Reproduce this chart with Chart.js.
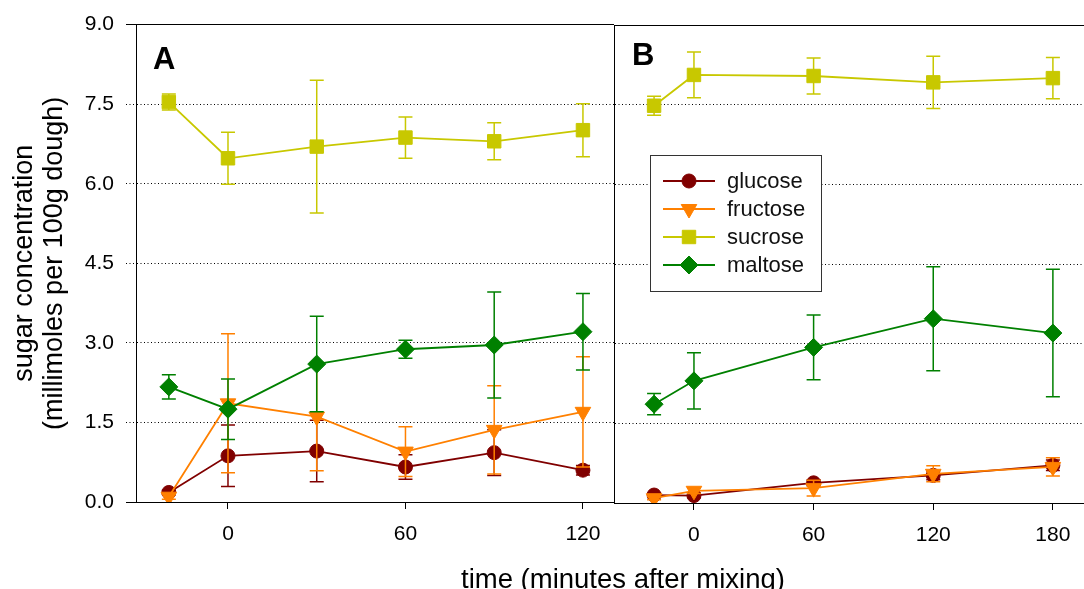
<!DOCTYPE html>
<html>
<head>
  <meta charset="UTF-8">
  <title>Sugar concentration in dough</title>
  <script src="https://cdn.jsdelivr.net/npm/chart.js"></script>
  <style>
    body {
      margin: 0;
      background: #fff;
      width: 1084px;
      height: 589px;
      overflow: hidden;
      position: relative;
      font-family: 'Liberation Sans', Arial, sans-serif;
    }
    #panelA { position: absolute; left: 0; top: 0; }
    #panelB { position: absolute; left: 614px; top: 1px; }
    #xTitle {
      position: absolute;
      left: 623px;
      top: 565px;
      transform: translateX(-50%);
      font-size: 27.5px;
      line-height: 1;
      white-space: nowrap;
      color: #000;
    }
  </style>
</head>
<body>
  <canvas id="panelA" width="615" height="589"></canvas>
  <canvas id="panelB" width="470" height="589"></canvas>
  <div id="xTitle">time (minutes after mixing)</div>
  <script>
    // panel A: times in minutes after mixing (-20 = before mixing)
    const timesA = [-20, 0, 30, 60, 90, 120];
    const glucoseA = [0.18, 0.87, 0.96, 0.66, 0.93, 0.60];
    const glucoseErrA = [0.04, 0.58, 0.58, 0.23, 0.43, 0.09];
    const fructoseA = [0.10, 1.86, 1.61, 0.95, 1.36, 1.70];
    const fructoseErrA = [0.05, 1.31, 1.02, 0.47, 0.83, 1.04];
    const sucroseA = [7.54, 6.48, 6.70, 6.87, 6.80, 7.01];
    const sucroseErrA = [0.15, 0.49, 1.25, 0.39, 0.35, 0.50];
    const maltoseA = [2.17, 1.75, 2.60, 2.88, 2.96, 3.21];
    const maltoseErrA = [0.23, 0.57, 0.90, 0.17, 1.00, 0.72];

    // panel B
    const timesB = [-20, 0, 60, 120, 180];
    const glucoseB = [0.15, 0.14, 0.38, 0.52, 0.71];
    const glucoseErrB = [0.04, 0.04, 0.06, 0.08, 0.10];
    const fructoseB = [0.09, 0.23, 0.28, 0.55, 0.68];
    const fructoseErrB = [0.03, 0.05, 0.15, 0.15, 0.17];
    const sucroseB = [7.48, 8.06, 8.04, 7.92, 8.00];
    const sucroseErrB = [0.18, 0.43, 0.34, 0.49, 0.39];
    const maltoseB = [1.86, 2.30, 2.93, 3.47, 3.20];
    const maltoseErrB = [0.20, 0.53, 0.61, 0.98, 1.20];

    const xTicksA = [0, 60, 120];
    const xTicksB = [0, 60, 120, 180];
    const sugars = ['glucose', 'fructose', 'sucrose', 'maltose'];

    const colors = {
      glucose: '#800000',
      fructose: '#ff8000',
      sucrose: '#c8c800',
      maltose: '#008000'
    };
    const markers = {
      glucose: { style: 'circle', radius: 7, rotation: 0 },
      fructose: { style: 'triangle', radius: 9, rotation: 180 },
      sucrose: { style: 'rect', radius: 9.5, rotation: 0 },
      maltose: { style: 'rectRot', radius: 9, rotation: 0 }
    };

    Chart.defaults.font.family = "'Liberation Sans', Arial, sans-serif";
    Chart.defaults.color = '#000';

    // vertical error bars with caps, drawn under each dataset
    const errorBars = {
      id: 'errorBars',
      beforeDatasetDraw(chart, args) {
        const ds = chart.data.datasets[args.index];
        if (!ds.errors) return;
        const { ctx, scales: { x, y } } = chart;
        ctx.save();
        ctx.strokeStyle = ds.borderColor;
        ctx.lineWidth = 1.5;
        ds.data.forEach((p, i) => {
          const e = ds.errors[i];
          if (!e) return;
          const px = x.getPixelForValue(p.x);
          const top = y.getPixelForValue(p.y + e);
          const bot = y.getPixelForValue(p.y - e);
          ctx.beginPath();
          ctx.moveTo(px, top); ctx.lineTo(px, bot);
          ctx.moveTo(px - 7, top); ctx.lineTo(px + 7, top);
          ctx.moveTo(px - 7, bot); ctx.lineTo(px + 7, bot);
          ctx.stroke();
        });
        ctx.restore();
      }
    };

    // big bold panel letter in the top left corner
    const panelLabel = {
      id: 'panelLabel',
      afterDraw(chart, args, opts) {
        if (!opts.text) return;
        const { ctx, chartArea } = chart;
        ctx.save();
        ctx.font = "bold 31px 'Liberation Sans', Arial, sans-serif";
        ctx.fillStyle = '#000';
        ctx.textBaseline = 'alphabetic';
        ctx.fillText(opts.text, chartArea.left + opts.dx, chartArea.top + opts.dy);
        ctx.restore();
      }
    };

    // boxed legend inside panel B
    const boxLegend = {
      id: 'boxLegend',
      afterDraw(chart, args, opts) {
        if (!opts.show) return;
        const { ctx, chartArea } = chart;
        const x0 = chartArea.left + 36;
        const y0 = chartArea.top + 130;
        ctx.save();
        ctx.fillStyle = '#fff';
        ctx.fillRect(x0, y0, 171, 136);
        ctx.strokeStyle = '#333';
        ctx.lineWidth = 1;
        ctx.strokeRect(x0 + 0.5, y0 + 0.5, 171, 136);
        chart.data.datasets.forEach((ds, i) => {
          const cy = y0 + 26 + i * 28;
          ctx.strokeStyle = ds.borderColor;
          ctx.fillStyle = ds.borderColor;
          ctx.lineWidth = 2;
          ctx.beginPath();
          ctx.moveTo(x0 + 13, cy);
          ctx.lineTo(x0 + 65, cy);
          ctx.stroke();
          ctx.lineWidth = 1;
          Chart.helpers.drawPoint(ctx, {
            pointStyle: ds.pointStyle,
            radius: ds.pointRadius,
            rotation: ds.pointRotation,
            borderWidth: 1
          }, x0 + 39, cy);
          ctx.fillStyle = '#111';
          ctx.font = "22px 'Liberation Sans', Arial, sans-serif";
          ctx.textBaseline = 'middle';
          ctx.fillText(ds.label, x0 + 77, cy + 1);
        });
        ctx.restore();
      }
    };

    function buildDatasets(times, values, errors) {
      return sugars.map((name, k) => ({
        label: name,
        data: times.map((t, i) => ({ x: t, y: values[k][i] })),
        errors: errors[k],
        borderColor: colors[name],
        backgroundColor: colors[name],
        borderWidth: 1.8,
        tension: 0,
        pointStyle: markers[name].style,
        pointRadius: markers[name].radius,
        pointRotation: markers[name].rotation,
        pointBorderWidth: 1,
        order: sugars.length - k
      }));
    }

    function makePanel(id, cfg) {
      const dotted = ctx => (ctx.tick && (ctx.tick.value === 0 || ctx.tick.value === 9)) ? [] : [1, 2.5];
      return new Chart(document.getElementById(id), {
        type: 'line',
        data: { datasets: cfg.datasets },
        options: {
          responsive: false,
          animation: false,
          layout: {
            autoPadding: false,
            padding: { top: 24, right: cfg.padRight, left: 0, bottom: 0 }
          },
          plugins: {
            legend: { display: false },
            tooltip: { enabled: false },
            panelLabel: cfg.label,
            boxLegend: { show: cfg.showLegend }
          },
          scales: {
            x: {
              type: 'linear',
              min: cfg.xMin,
              max: cfg.xMax,
              afterBuildTicks: s => { s.ticks = cfg.xTicks.map(v => ({ value: v })); },
              afterFit: s => { s.height = 87; s.paddingLeft = 0; s.paddingRight = 0; },
              ticks: { font: { size: 21 }, padding: 13, callback: v => String(v), maxRotation: 0 },
              grid: { drawOnChartArea: false, drawTicks: true, tickLength: 7, tickColor: '#000', tickWidth: 1 },
              border: { color: '#000', width: 1 }
            },
            y: {
              min: 0,
              max: 9,
              afterFit: s => { s.width = cfg.yWidth; },
              ticks: {
                display: cfg.yLabels,
                stepSize: 1.5,
                padding: 12,
                font: { size: 21 },
                callback: v => v.toFixed(1)
              },
              title: {
                display: cfg.yLabels,
                text: ['sugar concentration', '(millimoles per 100g dough)'],
                font: { size: 27, lineHeight: 1.1 },
                padding: { top: 10, bottom: 0 }
              },
              grid: {
                color: '#000',
                lineWidth: 1,
                drawTicks: cfg.yLabels,
                tickLength: 10,
                tickColor: '#000',
                tickBorderDash: dotted
              },
              border: { color: '#000', width: 1, dash: dotted }
            }
          }
        },
        plugins: [errorBars, panelLabel, boxLegend]
      });
    }

    makePanel('panelA', {
      datasets: buildDatasets(timesA,
        [glucoseA, fructoseA, sucroseA, maltoseA],
        [glucoseErrA, fructoseErrA, sucroseErrA, maltoseErrA]),
      xMin: -31.1, xMax: 130.5, xTicks: xTicksA,
      yWidth: 136, yLabels: true, padRight: 1,
      label: { text: 'A', dx: 17, dy: 44 },
      showLegend: false
    });

    makePanel('panelB', {
      datasets: buildDatasets(timesB,
        [glucoseB, fructoseB, sucroseB, maltoseB],
        [glucoseErrB, fructoseErrB, sucroseErrB, maltoseErrB]),
      xMin: -40.1, xMax: 195.6, xTicks: xTicksB,
      yWidth: 0, yLabels: false, padRight: 0,
      label: { text: 'B', dx: 18, dy: 40 },
      showLegend: true
    });
  </script>
</body>
</html>
